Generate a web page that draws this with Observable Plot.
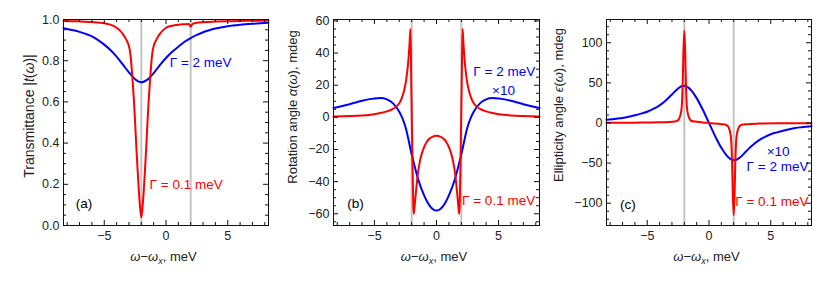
<!DOCTYPE html>
<html><head><meta charset="utf-8">
<script src="https://cdn.jsdelivr.net/npm/d3@7"></script>
<script src="https://cdn.jsdelivr.net/npm/@observablehq/plot@0.6"></script>
<style>
body{margin:0;background:#fff;}
#wrap{display:flex;width:822px;height:297px;overflow:hidden;}
#wrap svg{display:block;font-family:"Liberation Sans",Arial,sans-serif;}
</style></head><body><div id="wrap"></div>
<script>
// ---------- data ----------
const xMajor = [-5, 0, 5];
const xMinor = [-8, -7, -6, -4, -3, -2, -1, 1, 2, 3, 4, 6, 7, 8];
const resonanceLines = [-2, 2];

const transYMajor = [0, 0.2, 0.4, 0.6, 0.8, 1.0];
const transYMinor = [0.05, 0.1, 0.15, 0.25, 0.3, 0.35, 0.45, 0.5, 0.55, 0.65, 0.7, 0.75, 0.85, 0.9, 0.95];
const rotYMajor = [-60, -40, -20, 0, 20, 40, 60];
const rotYMinor = [-65, -55, -50, -45, -35, -30, -25, -15, -10, -5, 5, 10, 15, 25, 30, 35, 45, 50, 55];
const ellYMajor = [-100, -50, 0, 50, 100];
const ellYMinor = [-120, -110, -90, -80, -70, -60, -40, -30, -20, -10, 10, 20, 30, 40, 60, 70, 80, 90, 110, 120];

// (a) transmittance |t(ω)|
const transRed = [[-8.3,0.993],[-7,0.991],[-6,0.988],[-5,0.982],[-4.5,0.975],[-4,0.96],[-3.75,0.947],[-3.5,0.93],[-3.2,0.9],[-3.0,0.87],[-2.9,0.84],[-2.8,0.78],[-2.7,0.7],[-2.6,0.61],[-2.5,0.5],[-2.4,0.38],[-2.3,0.27],[-2.2,0.17],[-2.1,0.09],[-2.0,0.04],[-1.9,0.09],[-1.8,0.17],[-1.7,0.27],[-1.6,0.38],[-1.5,0.5],[-1.4,0.61],[-1.3,0.7],[-1.2,0.78],[-1.1,0.84],[-1.0,0.87],[-0.8,0.9],[-0.5,0.93],[-0.25,0.947],[0,0.96],[0.5,0.97],[1,0.975],[1.5,0.977],[1.8,0.978],[1.92,0.973],[2.0,0.965],[2.08,0.973],[2.2,0.98],[2.5,0.984],[3,0.987],[4,0.99],[5,0.992],[6,0.993],[7,0.994],[8.3,0.995]];
const transBlue = [[-8.3,0.958],[-7.5,0.948],[-7,0.94],[-6.5,0.93],[-6,0.918],[-5.5,0.9],[-5,0.878],[-4.5,0.852],[-4,0.82],[-3.5,0.782],[-3,0.743],[-2.5,0.71],[-2,0.695],[-1.5,0.708],[-1,0.74],[-0.5,0.778],[0,0.813],[0.5,0.843],[1,0.868],[1.5,0.892],[2,0.91],[2.5,0.925],[3,0.938],[3.5,0.948],[4,0.956],[5,0.967],[6,0.974],[7,0.979],[8.3,0.984]];

// (b) rotation angle α(ω), mdeg
const rotRed = [[-8.3,0.5],[-7,0.8],[-6,1.2],[-5,2],[-4.5,2.7],[-4,3.7],[-3.5,5.3],[-3.2,7],[-3,8.8],[-2.8,12],[-2.6,17],[-2.45,23],[-2.35,29],[-2.25,37],[-2.17,46],[-2.1,55],[-2.03,20],[-1.95,-20],[-1.87,-55],[-1.83,-60],[-1.77,-56],[-1.7,-50],[-1.6,-42],[-1.5,-35],[-1.4,-30],[-1.3,-26],[-1.2,-23],[-1.0,-18.5],[-0.8,-15.5],[-0.6,-13.5],[-0.3,-12],[0,-11.5],[0.3,-12],[0.6,-13.5],[0.8,-15.5],[1.0,-18.5],[1.2,-23],[1.3,-26],[1.4,-30],[1.5,-35],[1.6,-42],[1.7,-50],[1.77,-56],[1.83,-60],[1.87,-55],[1.95,-20],[2.03,20],[2.1,55],[2.17,46],[2.25,37],[2.35,29],[2.45,23],[2.6,17],[2.8,12],[3,8.8],[3.2,7],[3.5,5.3],[4,3.7],[4.5,2.7],[5,2],[6,1.2],[7,0.8],[8.3,0.5]];
const rotBlue = [[-8.3,5.8],[-7.5,7.2],[-7,8.2],[-6.5,9.3],[-6,10.3],[-5.5,11.2],[-5,11.8],[-4.5,12],[-4,11.2],[-3.5,8.7],[-3,3.5],[-2.75,-0.5],[-2.5,-6],[-2,-23],[-1.5,-38],[-1,-48.5],[-0.5,-55.5],[0,-58],[0.5,-55.5],[1,-48.5],[1.5,-38],[2,-23],[2.5,-6],[2.75,-0.5],[3,3.5],[3.5,8.7],[4,11.2],[4.5,12],[5,11.8],[5.5,11.2],[6,10.3],[6.5,9.3],[7,8.2],[7.5,7.2],[8.3,5.8]];

// (c) ellipticity angle ϵ(ω), mdeg
const ellRed = [[-8.3,0.2],[-6,0.4],[-4,0.8],[-3,1.5],[-2.6,2.5],[-2.45,4.5],[-2.35,8],[-2.27,13],[-2.2,22],[-2.13,50],[-2.07,90],[-2.0,115],[-1.93,90],[-1.87,50],[-1.8,22],[-1.73,13],[-1.65,8],[-1.55,4.5],[-1.4,2.5],[-1,1.5],[-0.5,0.6],[0,0],[0.5,-0.6],[1,-1.5],[1.4,-2.5],[1.55,-4.5],[1.65,-8],[1.73,-13],[1.8,-22],[1.87,-50],[1.93,-90],[2.0,-115],[2.07,-90],[2.13,-50],[2.2,-22],[2.27,-13],[2.35,-8],[2.45,-4.5],[2.6,-2.5],[3,-1.5],[4,-0.8],[6,-0.4],[8.3,-0.2]];
const ellBlue = [[-8.3,4],[-7.5,5.3],[-7,6.3],[-6.5,7.8],[-6,9.6],[-5.5,11.7],[-5,14],[-4.5,17.5],[-4,22],[-3.5,28],[-3,35.5],[-2.5,43],[-2.1,46.5],[-1.75,45],[-1.4,40],[-1,31],[-0.5,16.5],[0,0],[0.5,-16.5],[1,-31],[1.4,-40],[1.75,-45],[2.1,-46.5],[2.5,-43],[3,-35.5],[3.5,-28],[4,-22],[4.5,-17.5],[5,-14],[5.5,-11.7],[6,-9.6],[6.5,-7.8],[7,-6.3],[7.5,-5.3],[8.3,-4]];

// annotation texts [x, y, text, color, anchor]
const notesA = [[0.3,0.79,"Γ = 2 meV","#0000ff","start"],[-1.33,0.2,"Γ = 0.1 meV","#ff0000","start"],[-7.3,0.107,"(a)","#000","start"]];
const notesB = [[7.95,28.2,"Γ = 2 meV","#0000ff","end"],[5.4,16.9,"×10","#0000ff","middle"],[7.95,-51.6,"Γ = 0.1 meV","#ff0000","end"],[-7.2,-54,"(b)","#000","start"]];
const notesC = [[5.6,-35.2,"×10","#0000ff","middle"],[8.05,-55,"Γ = 2 meV","#0000ff","end"],[8.05,-98.7,"Γ = 0.1 meV","#ff0000","end"],[-7.2,-101.6,"(c)","#000","start"]];

const red = "#ff0000", blue = "#0000ff";

// ---------- drawing ----------
function panel(o) {
  const H = 297, mt = 19, mb = 72;
  const iw = o.width - o.ml - o.mr, ih = H - mt - mb;
  const marks = [
    Plot.ruleX(resonanceLines, {x: d => d, stroke: "#c4c4c4", strokeWidth: 2}),
    Plot.line(o.blue, {x: d => d[0], y: d => d[1], stroke: blue, strokeWidth: 2, curve: "monotone-x"}),
    Plot.line(o.red, {x: d => d[0], y: d => d[1], stroke: red, strokeWidth: 2, curve: "monotone-x"}),
    ...o.notes.map(n => Plot.text([n], {x: d => d[0], y: d => d[1], text: d => d[2], fill: n[3], textAnchor: n[4], lineAnchor: "middle", fontSize: 13.5})),
    Plot.frame({stroke: "#111", strokeWidth: 1}),
    Plot.tickX(xMajor, {x: d => d, insetTop: ih - 5, stroke: "#111"}),
    Plot.tickX(xMajor, {x: d => d, insetBottom: ih - 5, stroke: "#111"}),
    Plot.tickX(xMinor, {x: d => d, insetTop: ih - 3, stroke: "#111"}),
    Plot.tickX(xMinor, {x: d => d, insetBottom: ih - 3, stroke: "#111"}),
    Plot.tickY(o.yMajor, {y: d => d, insetRight: iw - 5, stroke: "#111"}),
    Plot.tickY(o.yMajor, {y: d => d, insetLeft: iw - 5, stroke: "#111"}),
    Plot.tickY(o.yMinor, {y: d => d, insetRight: iw - 3, stroke: "#111"}),
    Plot.tickY(o.yMinor, {y: d => d, insetLeft: iw - 3, stroke: "#111"}),
    Plot.axisX(xMajor, {tickSize: 0, tickPadding: 6, fontSize: 12.5, label: null, fill: "#222"}),
    Plot.axisY(o.yMajor, {tickSize: 0, tickPadding: 4, fontSize: 12.5, label: null, tickFormat: o.yFmt, fill: "#222"})
  ];
  const svg = Plot.plot({
    width: o.width, height: H,
    marginLeft: o.ml, marginRight: o.mr, marginTop: mt, marginBottom: mb,
    style: {fontFamily: "Liberation Sans, Arial, sans-serif", fontSize: "12px", background: "#fff"},
    x: {domain: [-8.3, 8.3], label: null},
    y: {domain: o.yDomain, label: null},
    marks
  });
  const s = d3.select(svg);
  // x title: ω−ωx, meV
  const xt = s.append("text")
    .attr("x", o.ml + iw / 2 + o.xtDx).attr("y", 261)
    .attr("text-anchor", "middle").attr("font-size", 13).attr("fill", "#222");
  xt.append("tspan").attr("font-style", "italic").text("ω");
  xt.append("tspan").text("−");
  xt.append("tspan").attr("font-style", "italic").text("ω");
  xt.append("tspan").attr("font-style", "italic").attr("font-size", 9).attr("dy", 3).text("x");
  xt.append("tspan").attr("dy", -3).text(", meV");
  // y title
  const yt = s.append("text")
    .attr("transform", `translate(${o.ytX},${o.ytY}) rotate(-90)`)
    .attr("text-anchor", "middle").attr("dy", "0.35em").attr("font-size", o.ytSize).attr("fill", "#222");
  o.yTitle.forEach(([t, it]) => {
    const ts = yt.append("tspan").text(t);
    if (it) ts.attr("font-style", "italic");
  });
  return svg;
}

const wrap = document.getElementById("wrap");
wrap.append(panel({
  width: 274, ml: 63, mr: 6, yDomain: [0, 1], yMajor: transYMajor, yMinor: transYMinor,
  yFmt: d3.format(".1f"), red: transRed, blue: transBlue, notes: notesA,
  xtDx: -2, ytX: 29, ytY: 116, ytSize: 14,
  yTitle: [["Transmittance |", false], ["t", true], ["(", false], ["ω", true], [")|", false]]
}));
wrap.append(panel({
  width: 274, ml: 59, mr: 9, yDomain: [-67.3, 60.9], yMajor: rotYMajor, yMinor: rotYMinor,
  yFmt: d3.format("d"), red: rotRed, blue: rotBlue, notes: notesB,
  xtDx: -2, ytX: 18, ytY: 107, ytSize: 13,
  yTitle: [["Rotation angle ", false], ["α", true], ["(", false], ["ω", true], ["), mdeg", false]]
}));
wrap.append(panel({
  width: 274, ml: 58, mr: 11, yDomain: [-127.8, 129], yMajor: ellYMajor, yMinor: ellYMinor,
  yFmt: d3.format("d"), red: ellRed, blue: ellBlue, notes: notesC,
  xtDx: -2, ytX: 10, ytY: 105, ytSize: 13,
  yTitle: [["Ellipticity angle ", false], ["ϵ", true], ["(", false], ["ω", true], ["), mdeg", false]]
}));
</script>
</body></html>
